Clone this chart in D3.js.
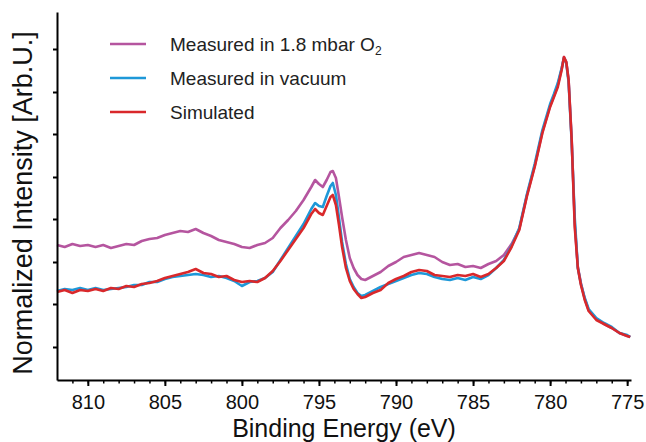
<!DOCTYPE html>
<html>
<head>
<meta charset="utf-8">
<script src="https://cdn.jsdelivr.net/npm/d3@7"></script>
<style>
  body { margin: 0; background: #fff; }
  svg { display: block; font-family: "Liberation Sans", Arial, sans-serif; }
</style>
</head>
<body>
<div id="chart"></div>
<script>
// binding energies (eV), shared by all three spectra
const energy = [
  812, 811.5, 811, 810.5, 810, 809.5, 809, 808.5, 808, 807.5, 807, 806.5, 806, 805.5, 805,
  804.5, 804, 803.5, 803, 802.5, 802, 801.5, 801, 800.5, 800, 799.5, 799, 798.5, 798,
  797.5, 797, 796.5, 796, 795.5, 795.25, 795, 794.75, 794.5, 794.25, 794.1,
  793.9, 793.7, 793.5, 793.25, 793, 792.75, 792.5, 792.25, 792,
  791.5, 791, 790.5, 790, 789.5, 789, 788.5, 788, 787.5, 787, 786.5, 786, 785.5, 785,
  784.5, 784, 783.5, 783, 782.5, 782, 781.5, 781, 780.5, 780,
  779.75, 779.5, 779.25, 779.1, 778.95, 778.8, 778.6, 778.4, 778.2, 778, 777.75, 777.5,
  777, 776.5, 776, 775.5, 775, 774.8
];

// Measured in 1.8 mbar O2
const o2 = [
  1.35, 1.33, 1.36, 1.34, 1.35, 1.33, 1.35, 1.32, 1.34, 1.36, 1.35, 1.39, 1.41, 1.42, 1.45,
  1.47, 1.49, 1.48, 1.51, 1.47, 1.44, 1.40, 1.38, 1.36, 1.33, 1.32, 1.35, 1.37, 1.42,
  1.52, 1.60, 1.69, 1.80, 1.93, 2.00, 1.96, 1.93, 2.00, 2.08, 2.09,
  2.02, 1.83, 1.63, 1.40, 1.22, 1.12, 1.05, 1.01, 1.00,
  1.04, 1.08, 1.14, 1.18, 1.23, 1.25, 1.27, 1.25, 1.23, 1.18, 1.15, 1.16, 1.13, 1.14,
  1.12, 1.16, 1.19, 1.25, 1.36, 1.51, 1.85, 2.14, 2.48, 2.74,
  2.84, 2.95, 3.11, 3.23, 3.18, 3.00, 2.41, 1.56, 1.13, 0.97, 0.81, 0.70,
  0.61, 0.56, 0.52, 0.47, 0.44, 0.43
];

// Measured in vacuum
const vacuum = [
  0.89, 0.91, 0.90, 0.92, 0.90, 0.92, 0.90, 0.91, 0.92, 0.93, 0.95, 0.95, 0.98, 0.98, 1.01,
  1.03, 1.04, 1.05, 1.06, 1.05, 1.03, 1.04, 1.02, 0.99, 0.94, 0.98, 0.99, 1.02, 1.08,
  1.20, 1.32, 1.44, 1.56, 1.71, 1.77, 1.74, 1.73, 1.84, 1.94, 1.97,
  1.85, 1.62, 1.38, 1.16, 1.01, 0.93, 0.87, 0.84, 0.85,
  0.89, 0.93, 0.96, 0.99, 1.02, 1.05, 1.07, 1.06, 1.03, 1.01, 1.00, 1.02, 1.00, 1.03,
  1.01, 1.05, 1.12, 1.20, 1.34, 1.52, 1.86, 2.16, 2.50, 2.76,
  2.86, 2.97, 3.12, 3.22, 3.17, 2.98, 2.38, 1.62, 1.12, 0.96, 0.82, 0.71,
  0.62, 0.57, 0.53, 0.47, 0.45, 0.43
];

// Simulated
const simulated = [
  0.88, 0.90, 0.87, 0.90, 0.89, 0.91, 0.89, 0.92, 0.91, 0.94, 0.93, 0.96, 0.97, 0.99, 1.02,
  1.04, 1.06, 1.08, 1.11, 1.07, 1.06, 1.03, 1.04, 1.00, 0.98, 0.99, 0.98, 1.02, 1.09,
  1.19, 1.30, 1.41, 1.52, 1.66, 1.71, 1.67, 1.65, 1.74, 1.83, 1.85,
  1.75, 1.55, 1.33, 1.12, 0.99, 0.91, 0.86, 0.82, 0.83,
  0.87, 0.90, 0.97, 1.01, 1.04, 1.08, 1.10, 1.09, 1.05, 1.04, 1.03, 1.05, 1.04, 1.06,
  1.03, 1.06, 1.12, 1.19, 1.33, 1.50, 1.84, 2.13, 2.47, 2.73,
  2.83, 2.93, 3.10, 3.23, 3.18, 3.00, 2.40, 1.53, 1.12, 0.95, 0.80, 0.69,
  0.60, 0.56, 0.52, 0.47, 0.44, 0.43
];

const xTicks = [810, 805, 800, 795, 790, 785, 780, 775];
const yTicks = [0.33, 0.76, 1.18, 1.61, 2.03, 2.46, 2.88, 3.31];

const series = [
  { name: "o2", values: o2, color: "#b5559f" },
  { name: "Measured in vacuum", values: vacuum, color: "#1e98d8" },
  { name: "Simulated", values: simulated, color: "#d9282b" }
];

const W = 646, H = 442;
const plot = { left: 57, right: 631, top: 12, bottom: 380 };

const svg = d3.select("#chart").append("svg")
  .attr("width", W)
  .attr("height", H);

const x = d3.scaleLinear().domain([812, 774.75]).range([plot.left, plot.right]);
const y = d3.scaleLinear().domain([0, 3.68]).range([plot.bottom, plot.top]);

// curves
const line = d3.line()
  .x(d => x(d[0]))
  .y(d => y(d[1]));

series.forEach(s => {
  svg.append("path")
    .datum(energy.map((e, i) => [e, s.values[i]]))
    .attr("fill", "none")
    .attr("stroke", s.color)
    .attr("stroke-width", 2.6)
    .attr("stroke-linejoin", "round")
    .attr("d", line);
});

// x axis: minor ticks every 1 eV, then major ticks with labels
svg.append("g")
  .attr("transform", `translate(0,${plot.bottom})`)
  .call(d3.axisBottom(x).tickValues(d3.range(775, 812, 1)).tickSize(3.5).tickFormat(""))
  .call(g => g.select(".domain").remove())
  .selectAll("line").attr("stroke-width", 1.5);

const xa = svg.append("g")
  .attr("transform", `translate(0,${plot.bottom})`)
  .call(d3.axisBottom(x).tickValues(xTicks).tickSize(6).tickPadding(9).tickSizeOuter(0));
xa.select(".domain").attr("stroke-width", 2);
xa.selectAll("line").attr("stroke-width", 2);
xa.selectAll("text")
  .style("font-size", "20px")
  .style("font-family", "Liberation Sans, Arial, sans-serif")
  .attr("fill", "#111");

// y axis, ticks without labels
const ya = svg.append("g")
  .attr("transform", `translate(${plot.left},0)`)
  .call(d3.axisLeft(y).tickValues(yTicks).tickSize(4).tickSizeOuter(0).tickFormat(""));
ya.select(".domain").attr("stroke-width", 2);
ya.selectAll("line").attr("stroke-width", 2);

// axis titles
svg.append("text")
  .attr("x", 344)
  .attr("y", 437)
  .attr("text-anchor", "middle")
  .style("font-size", "25px")
  .attr("fill", "#111")
  .text("Binding Energy (eV)");

svg.append("text")
  .attr("transform", "translate(32, 203) rotate(-90)")
  .attr("text-anchor", "middle")
  .style("font-size", "27px")
  .attr("fill", "#111")
  .text("Normalized Intensity [Arb.U.]");

// legend
const legend = svg.append("g");
series.forEach((s, i) => {
  const ly = 44 + i * 34;
  legend.append("line")
    .attr("x1", 110).attr("x2", 146)
    .attr("y1", ly).attr("y2", ly)
    .attr("stroke", s.color)
    .attr("stroke-width", 2.6);
  const t = legend.append("text")
    .attr("x", 170)
    .attr("y", ly + 7)
    .style("font-size", "19px")
    .attr("fill", "#222");
  if (s.name === "o2") {
    t.append("tspan").text("Measured in 1.8 mbar O");
    t.append("tspan").attr("dy", 4).style("font-size", "12px").text("2");
  } else {
    t.text(s.name);
  }
});
</script>
</body>
</html>
